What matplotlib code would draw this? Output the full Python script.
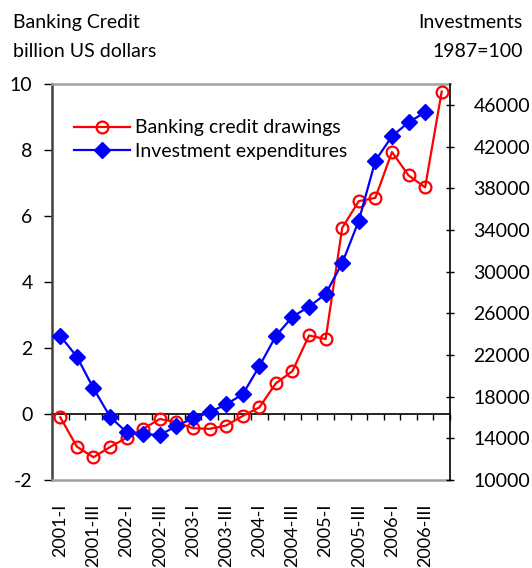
import numpy as np
import matplotlib
matplotlib.use("Agg")
import matplotlib.pyplot as plt

plt.rcParams['font.family'] = ['Lato', 'DejaVu Sans']

# Quarterly categories, 2001-I .. 2006-IV
years = [2001, 2002, 2003, 2004, 2005, 2006]
roman = ["I", "II", "III", "IV"]
quarters = [f"{y}-{q}" for y in years for q in roman]

# Banking credit drawings, billion US dollars (left axis)
credit = [-0.10, -0.99, -1.31, -1.00, -0.72, -0.45, -0.15, -0.25,
          -0.43, -0.45, -0.35, -0.06, 0.20, 0.93, 1.30, 2.38,
          2.27, 5.64, 6.45, 6.55, 7.94, 7.23, 6.87, 9.77]

# Investment expenditures, 1987=100 (right axis)
invest = [23820, 21830, 18800, 16070, 14580, 14390, 14320, 15180,
          15920, 16500, 17260, 18220, 20910, 23820, 25670, 26630,
          27850, 30820, 34880, 40640, 42980, 44330, 45280]

left_ticks = [-2, 0, 2, 4, 6, 8, 10]
right_ticks = [10000, 14000, 18000, 22000, 26000, 30000, 34000, 38000, 42000, 46000]

FS = 14

fig = plt.figure(figsize=(5.32, 5.68), dpi=100)
ax = fig.add_axes([52 / 532, 1 - 480 / 568, 398 / 532, 396 / 568])
ax2 = ax.twinx()

x_credit = np.arange(len(credit))
x_invest = np.arange(len(invest))

l1, = ax.plot(x_credit, credit, color="#ff0000", lw=1.6, marker="o", ms=8.5,
              mfc="none", mec="#ff0000", mew=1.6, label="Banking credit drawings",
              zorder=3)
l2, = ax2.plot(x_invest, invest, color="#0000ff", lw=1.6, marker="D", ms=8,
               mfc="#0000ff", mec="#0000ff", label="Investment expenditures",
               zorder=3)

ax.set_xlim(-0.5, len(quarters) - 0.5)
ax.set_ylim(-2, 10)
ax2.set_ylim(10000, 48000)

ax.set_yticks(left_ticks)
ax.set_yticklabels([str(v) for v in left_ticks])
ax2.set_yticks(right_ticks)
ax2.set_yticklabels([str(v) for v in right_ticks])

ax.tick_params(axis="y", direction="out", length=6, width=1, pad=8,
               labelsize=FS, colors="black")
ax2.tick_params(axis="y", direction="inout", length=6, width=1, pad=14,
                labelsize=FS)

# category labels every second quarter at the bottom
ax.set_xticks(np.arange(0, len(quarters), 2))
ax.set_xticklabels(quarters[::2], rotation=90, fontsize=13, va="top")
ax.tick_params(axis="x", length=0, pad=17)

# category axis crossing at zero, with tick marks between categories
zero_frac = (0 - (-2)) / (10 - (-2))
sec = ax.secondary_xaxis(zero_frac)
sec.set_xticks(np.arange(-0.5, len(quarters), 1.0))
sec.set_xticklabels([])
sec.tick_params(axis="x", direction="out", length=4, width=1, colors="black")
sec.spines["bottom"].set_color("black")
sec.spines["bottom"].set_linewidth(1.2)

for s in ["top", "bottom"]:
    ax.spines[s].set_color("#a0a0a0")
    ax.spines[s].set_linewidth(1.8)
ax.spines["left"].set_color("#404040")
ax.spines["left"].set_linewidth(1.8)
ax.spines["right"].set_visible(False)
for s in ["top", "bottom", "left"]:
    ax2.spines[s].set_visible(False)
ax2.spines["right"].set_color("black")
ax2.spines["right"].set_linewidth(1.2)

leg = ax.legend(handles=[l1, l2], loc="upper left",
                bbox_to_anchor=(0.035, 0.93), frameon=False, fontsize=FS,
                handlelength=2.9, handletextpad=0.25, labelspacing=0.35,
                borderaxespad=0)

fig.text(13 / 532, 1 - 28 / 568, "Banking Credit", fontsize=FS, ha="left", va="baseline")
fig.text(13 / 532, 1 - 57 / 568, "billion US dollars", fontsize=FS, ha="left", va="baseline")
fig.text(523 / 532, 1 - 28 / 568, "Investments", fontsize=FS, ha="right", va="baseline")
fig.text(523 / 532, 1 - 57 / 568, "1987=100", fontsize=FS, ha="right", va="baseline")

fig.savefig("out.png", dpi=100)
